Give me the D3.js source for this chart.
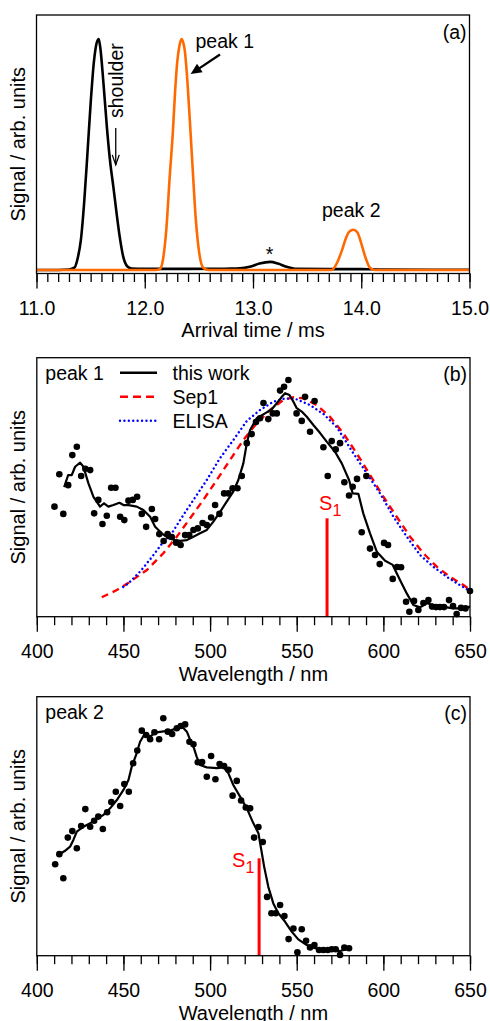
<!DOCTYPE html>
<html><head><meta charset="utf-8">
<script src="https://cdn.jsdelivr.net/npm/d3@7"></script>
<style>
body{margin:0;background:#fff}
svg text{font-family:"Liberation Sans",Arial,Helvetica,sans-serif;fill:#000}
</style>
</head><body>
<svg id="chart" width="490" height="1021"></svg>
<script>
// ---------------- DATA ----------------
const arrivalMajorTicks = [11, 12, 13, 14, 15];
const arrivalTickLabels = ["11.0", "12.0", "13.0", "14.0", "15.0"];
const wavelengthMajorTicks = [400, 450, 500, 550, 600, 650];
const wavelengthTickLabels = ["400", "450", "500", "550", "600", "650"];

// panel (a): arrival time distributions [time ms, signal]
const blackTrace = [[11.0,0.0],[11.2,0.0],[11.30,0.002],[11.35,0.01],[11.38,0.05],[11.41,0.13],[11.44,0.29],[11.47,0.50],[11.50,0.72],[11.53,0.90],[11.56,0.99],[11.575,1.0],[11.59,0.96],[11.62,0.80],[11.65,0.62],[11.68,0.47],[11.71,0.36],[11.74,0.245],[11.77,0.14],[11.80,0.06],[11.84,0.015],[11.88,0.006],[12.0,0.005],[12.4,0.005],[12.8,0.006],[12.88,0.007],[12.97,0.014],[13.06,0.028],[13.16,0.035],[13.23,0.028],[13.31,0.014],[13.40,0.005],[13.7,0.004],[14.0,0.004],[14.2,0.002],[15.0,0.001]];
const orangeTrace = [[11.0,0.0],[11.5,0.0],[12.0,0.0],[12.10,0.0],[12.14,0.004],[12.17,0.05],[12.20,0.18],[12.23,0.40],[12.26,0.60],[12.28,0.77],[12.30,0.90],[12.32,0.97],[12.34,1.0],[12.355,0.985],[12.37,0.95],[12.395,0.81],[12.42,0.62],[12.445,0.42],[12.47,0.23],[12.50,0.085],[12.54,0.01],[12.59,0.0],[13.0,0.0],[13.5,0.0],[13.727,0.0],[13.77,0.025],[13.82,0.083],[13.86,0.14],[13.89,0.166],[13.927,0.174],[13.965,0.162],[14.0,0.115],[14.04,0.053],[14.08,0.01],[14.13,0.0],[14.5,0.0],[15.0,0.0]];

// panel (b): peak 1 action spectrum [wavelength nm, signal]
const peak1Points = [[410.2,0.425],[413.0,0.550],[415.3,0.397],[418.1,0.508],[420.5,0.624],[423.1,0.656],[425.6,0.543],[428.0,0.571],[430.8,0.566],[433.1,0.399],[435.5,0.451],[437.9,0.358],[440.4,0.390],[442.9,0.498],[445.4,0.498],[448.1,0.386],[450.5,0.373],[452.9,0.448],[455.4,0.451],[457.9,0.463],[460.6,0.397],[463.1,0.347],[466.4,0.416],[468.3,0.377],[470.7,0.319],[473.2,0.292],[475.5,0.319],[477.9,0.308],[480.4,0.286],[483.0,0.277],[485.6,0.315],[488.0,0.315],[490.4,0.335],[492.9,0.341],[495.7,0.362],[498.1,0.354],[500.6,0.383],[502.9,0.431],[505.4,0.397],[508.1,0.476],[510.6,0.476],[513.0,0.496],[515.8,0.496],[518.3,0.543],[521.2,0.670],[524.0,0.705],[526.5,0.752],[528.8,0.766],[530.8,0.825],[533.6,0.763],[536.2,0.785],[538.5,0.785],[540.4,0.873],[542.7,0.888],[545.2,0.914],[549.9,0.785],[552.9,0.756],[554.8,0.849],[557.7,0.714],[560.3,0.833],[565.4,0.654],[567.9,0.543],[570.2,0.678],[572.5,0.646],[575.0,0.670],[577.5,0.519],[580.2,0.468],[582.3,0.502],[584.8,0.532],[587.5,0.326],[590.2,0.543],[592.3,0.263],[595.2,0.238],[597.9,0.203],[600.4,0.285],[602.7,0.277],[605.4,0.146],[607.9,0.192],[610.2,0.191],[613.1,0.058],[615.0,0.019],[617.7,0.061],[620.2,0.026],[623.1,0.053],[626.0,0.064],[628.1,0.039],[630.4,0.037],[632.7,0.037],[635.0,0.037],[637.9,0.064],[640.2,0.041],[642.3,0.010],[644.8,0.034],[647.4,0.032],[650.0,0.099]];
const peak1Smooth = [[415.8,0.500],[418.1,0.547],[420.2,0.547],[422.1,0.579],[425.0,0.595],[426.9,0.579],[429.8,0.515],[432.7,0.463],[436.5,0.425],[438.8,0.438],[441.3,0.425],[444.2,0.431],[447.7,0.440],[450.0,0.431],[452.9,0.431],[457.7,0.425],[461.5,0.412],[465.4,0.386],[468.3,0.347],[472.1,0.322],[475.9,0.303],[479.8,0.296],[482.7,0.293],[486.6,0.296],[490.4,0.309],[494.2,0.322],[498.1,0.335],[501.9,0.367],[505.8,0.405],[509.6,0.444],[513.4,0.483],[516.3,0.528],[519.2,0.592],[521.2,0.670],[523.1,0.721],[526.9,0.766],[531.7,0.785],[535.6,0.801],[538.5,0.824],[541.4,0.849],[543.3,0.863],[545.8,0.856],[548.1,0.830],[550.0,0.805],[552.9,0.792],[555.8,0.772],[559.6,0.740],[563.5,0.709],[567.3,0.676],[572.1,0.637],[576.0,0.592],[580.2,0.528],[582.3,0.476],[585.6,0.474],[588.4,0.399],[592.3,0.322],[596.2,0.251],[601.0,0.216],[605.4,0.200],[609.6,0.142],[613.5,0.090],[617.3,0.045],[621.2,0.036],[625.0,0.052],[628.8,0.045],[632.7,0.039],[636.6,0.036],[640.4,0.032],[644.2,0.032],[648.1,0.036],[650.0,0.039]];
const sep1Curve = [[437.5,0.075],[446.2,0.103],[453.8,0.135],[463.5,0.180],[473.0,0.245],[480.8,0.309],[488.5,0.380],[496.1,0.451],[503.9,0.528],[511.5,0.605],[519.2,0.682],[526.9,0.747],[534.6,0.798],[542.3,0.837],[548.1,0.847],[553.8,0.843],[561.6,0.817],[569.2,0.772],[576.9,0.708],[584.6,0.631],[592.3,0.547],[600.0,0.463],[607.7,0.386],[615.4,0.309],[623.1,0.245],[630.8,0.193],[638.5,0.154],[646.2,0.122],[649.6,0.106]];
const elisaCurve = [[449.8,0.115],[452.9,0.129],[459.6,0.174],[466.4,0.230],[472.1,0.281],[477.9,0.322],[484.6,0.393],[490.4,0.451],[498.1,0.528],[505.8,0.613],[513.4,0.682],[521.2,0.756],[528.8,0.798],[536.5,0.830],[543.3,0.843],[550.0,0.839],[557.7,0.817],[565.4,0.783],[573.1,0.732],[582.7,0.631],[590.4,0.554],[598.1,0.476],[605.8,0.386],[613.5,0.309],[621.2,0.238],[628.8,0.193],[636.6,0.154],[644.2,0.122],[649.0,0.103]];
const s1Peak1 = [567.5, 0.38];

// panel (c): peak 2 action spectrum
const peak2Points = [[410.6,0.353],[413.0,0.392],[415.3,0.299],[417.9,0.456],[420.5,0.481],[423.1,0.415],[425.6,0.501],[428.0,0.566],[430.8,0.498],[433.1,0.521],[435.5,0.537],[438.1,0.489],[440.6,0.554],[443.0,0.593],[445.6,0.633],[448.1,0.578],[450.5,0.663],[453.1,0.633],[455.6,0.743],[458.0,0.792],[460.6,0.869],[463.1,0.852],[465.4,0.836],[467.9,0.863],[470.6,0.836],[473.0,0.917],[475.6,0.865],[478.1,0.856],[480.8,0.878],[483.1,0.887],[485.6,0.893],[488.1,0.826],[490.4,0.816],[492.9,0.747],[495.4,0.748],[498.1,0.691],[500.6,0.771],[503.1,0.681],[505.5,0.740],[508.1,0.732],[510.6,0.718],[513.0,0.618],[515.4,0.675],[517.9,0.599],[520.6,0.572],[523.1,0.569],[525.4,0.456],[527.9,0.497],[530.4,0.439],[532.9,0.227],[535.4,0.164],[537.9,0.164],[540.4,0.196],[542.9,0.153],[545.3,0.064],[548.1,0.105],[550.4,0.013],[552.9,0.102],[555.4,0.058],[557.7,0.032],[560.2,0.041],[562.9,0.022],[565.4,0.022],[567.9,0.022],[570.2,0.025],[572.5,0.025],[575.0,0.003],[577.5,0.031],[580.2,0.029]];
const peak2Smooth = [[412.5,0.389],[416.3,0.405],[419.2,0.421],[421.1,0.447],[423.1,0.479],[426.9,0.498],[430.8,0.511],[434.6,0.530],[438.4,0.543],[442.3,0.569],[446.2,0.601],[450.0,0.640],[452.9,0.678],[454.8,0.730],[457.3,0.775],[459.6,0.826],[462.5,0.859],[465.4,0.846],[468.3,0.861],[472.1,0.865],[476.9,0.869],[480.8,0.878],[484.2,0.882],[486.6,0.865],[488.5,0.833],[490.4,0.807],[492.3,0.768],[494.2,0.736],[498.1,0.727],[503.9,0.724],[507.7,0.727],[510.6,0.704],[513.4,0.659],[517.3,0.614],[521.2,0.569],[525.0,0.511],[527.9,0.473],[529.4,0.415],[531.2,0.344],[533.6,0.266],[536.5,0.202],[539.4,0.164],[543.3,0.131],[547.1,0.093],[550.9,0.063],[555.8,0.041],[560.6,0.029],[565.4,0.022],[570.2,0.022],[575.0,0.018],[578.9,0.025],[581.8,0.027]];
const s1Peak2 = [528.3, 0.376];

// ---------------- DRAW ----------------
const svg = d3.select("#chart");
const FS = 19.5;
const ORANGE = "#ff6a00", RED = "#ff0000", BLUE = "#0000ff";

function frameAndAxis(g, x, top, bottom, left, right, major, labels, minorStep, title) {
  const lo = major[0], hi = major[major.length - 1];
  const minor = d3.range(lo, hi + minorStep / 2, minorStep);
  const axMinor = d3.axisBottom(x).tickValues(minor).tickSize(8.5).tickSizeOuter(0).tickFormat("");
  const axMajor = d3.axisBottom(x).tickValues(major).tickSize(15).tickSizeOuter(0)
    .tickPadding(12.6).tickFormat((d, i) => labels[i]);
  const gm = g.append("g").attr("transform", `translate(0,${bottom})`).call(axMinor);
  const gM = g.append("g").attr("transform", `translate(0,${bottom})`).call(axMajor);
  [gm, gM].forEach(a => {
    a.select(".domain").remove();
    a.selectAll("line").attr("stroke", "#000").attr("stroke-width", 1.3);
  });
  gM.selectAll("text").attr("font-size", FS).attr("font-family", "Liberation Sans, Arial, sans-serif").attr("fill", "#000");
  g.append("rect").attr("x", left).attr("y", top).attr("width", right - left).attr("height", bottom - top)
    .attr("fill", "none").attr("stroke", "#000").attr("stroke-width", 1.3);
  g.append("text").attr("x", (left + right) / 2).attr("y", bottom + 63.8).attr("text-anchor", "middle")
    .attr("font-size", 20).text(title);
  g.append("text").attr("transform", `translate(25,${(top + bottom) / 2}) rotate(-90)`)
    .attr("text-anchor", "middle").attr("font-size", 20).text("Signal / arb. units");
}

// ---- panel (a)
{
  const L = 36.5, R = 469.5, T = 15, B = 273.5;
  const x = d3.scaleLinear([11, 15], [L, R]);
  const y = d3.scaleLinear([0, 1], [270, 39]);
  const g = svg.append("g");
  g.append("clipPath").attr("id", "clipA").append("rect").attr("x", L).attr("y", T).attr("width", R - L).attr("height", B - T);
  const line = d3.line().x(d => x(d[0])).y(d => y(d[1])).curve(d3.curveMonotoneX);
  g.append("path").datum(blackTrace).attr("d", line).attr("fill", "none").attr("stroke", "#000")
    .attr("stroke-width", 2.6).attr("stroke-linejoin", "round").attr("clip-path", "url(#clipA)");
  g.append("path").datum(orangeTrace).attr("d", line).attr("fill", "none").attr("stroke", ORANGE)
    .attr("stroke-width", 2.6).attr("stroke-linejoin", "round").attr("clip-path", "url(#clipA)");
  frameAndAxis(g, x, T, B, L, R, arrivalMajorTicks, arrivalTickLabels, 0.1, "Arrival time / ms");

  g.append("text").attr("x", R - 3).attr("y", 38.5).attr("text-anchor", "end").attr("font-size", FS).text("(a)");
  g.append("text").attr("x", x(12.469)).attr("y", y(0.96)).attr("font-size", FS).text("peak 1");
  g.append("text").attr("x", x(13.637)).attr("y", y(0.231)).attr("font-size", FS).text("peak 2");
  g.append("text").attr("x", x(13.152)).attr("y", y(0.039)).attr("text-anchor", "middle").attr("font-size", FS).text("*");
  g.append("text").attr("transform", `translate(${x(11.799)},${y(0.658)}) rotate(-90)`).attr("font-size", FS).text("shoulder");

  // peak 1 arrow (filled head)
  const tail = [x(12.695), y(0.933)], tip = [x(12.424), y(0.848)];
  const dx = tip[0] - tail[0], dy = tip[1] - tail[1], len = Math.hypot(dx, dy);
  const ux = dx / len, uy = dy / len, hl = 11, hw = 5;
  const bx = tip[0] - ux * hl, by = tip[1] - uy * hl;
  g.append("line").attr("x1", tail[0]).attr("y1", tail[1]).attr("x2", bx + ux * 2).attr("y2", by + uy * 2)
    .attr("stroke", "#000").attr("stroke-width", 2.3);
  g.append("path").attr("d", `M${tip[0]},${tip[1]}L${bx - uy * hw},${by + ux * hw}L${bx + uy * hw},${by - ux * hw}Z`).attr("fill", "#000");

  // shoulder arrow (open head)
  const sx = x(11.732), sy1 = y(0.615), sy2 = y(0.455);
  g.append("line").attr("x1", sx).attr("y1", sy1).attr("x2", sx).attr("y2", sy2).attr("stroke", "#000").attr("stroke-width", 1.3);
  g.append("path").attr("d", `M${sx - 3.5},${sy2 - 10}L${sx},${sy2}L${sx + 3.5},${sy2 - 10}`)
    .attr("fill", "none").attr("stroke", "#000").attr("stroke-width", 1.3);
}

function spectrumPanel(id, T, B, points, smooth, s1, label, tag, extra) {
  const L = 36.8, R = 470;
  const x = d3.scaleLinear([400, 650], [L, R]);
  const y = d3.scaleLinear([0, 1], [B, T]);
  const g = svg.append("g");
  const line = d3.line().x(d => x(d[0])).y(d => y(d[1]));
  if (extra) extra(g, x, y, L, T);
  g.append("path").datum(smooth).attr("d", line).attr("fill", "none").attr("stroke", "#000")
    .attr("stroke-width", 2.2).attr("stroke-linejoin", "round");
  g.selectAll("circle.pt").data(points).join("circle").attr("class", "pt")
    .attr("cx", d => x(d[0])).attr("cy", d => y(d[1])).attr("r", 3.3).attr("fill", "#000");
  g.append("line").attr("x1", x(s1[0])).attr("x2", x(s1[0])).attr("y1", y(0)).attr("y2", y(s1[1]))
    .attr("stroke", RED).attr("stroke-width", 3);
  frameAndAxis(g, x, T, B, L, R, wavelengthMajorTicks, wavelengthTickLabels, 10, "Wavelength / nm");
  g.append("text").attr("x", R - 3).attr("y", T + 23.3).attr("text-anchor", "end").attr("font-size", FS).text(tag);
  g.append("text").attr("x", L + 8.5).attr("y", T + 22.3).attr("font-size", FS).text(label);
  return {g, x, y};
}

// ---- panel (b)
{
  const T = 357.7, B = 616.7;
  const p = spectrumPanel("b", T, B, peak1Points, peak1Smooth, s1Peak1, "peak 1", "(b)", (g, x, y) => {
    const line = d3.line().x(d => x(d[0])).y(d => y(d[1]));
    g.append("path").datum(sep1Curve).attr("d", line).attr("fill", "none").attr("stroke", RED)
      .attr("stroke-width", 2.4).attr("stroke-dasharray", "7,5");
    g.append("path").datum(elisaCurve).attr("d", line).attr("fill", "none").attr("stroke", BLUE)
      .attr("stroke-width", 2.4).attr("stroke-linecap", "round").attr("stroke-dasharray", "0.01,4.4");
  });
  const g = p.g;
  const leg = [
    {name: "this work", color: "#000", dash: null, cap: "butt", w: 2.4},
    {name: "Sep1", color: RED, dash: "8,5", cap: "butt", w: 2.4},
    {name: "ELISA", color: BLUE, dash: "0.01,4.4", cap: "round", w: 2.4}
  ];
  leg.forEach((d, i) => {
    const yy = 372.7 + i * 24;
    g.append("line").attr("x1", 120).attr("x2", 157).attr("y1", yy).attr("y2", yy)
      .attr("stroke", d.color).attr("stroke-width", d.w).attr("stroke-linecap", d.cap)
      .attr("stroke-dasharray", d.dash);
    g.append("text").attr("x", 172.5).attr("y", yy + 7).attr("font-size", FS).text(d.name);
  });
  const s = g.append("text").attr("x", p.x(s1Peak1[0]) - 8).attr("y", 509.5).attr("font-size", 20).attr("fill", RED).style("fill", RED);
  s.append("tspan").text("S");
  s.append("tspan").attr("font-size", 16).attr("dy", 6.5).text("1");
}

// ---- panel (c)
{
  const T = 696.7, B = 955.7;
  const p = spectrumPanel("c", T, B, peak2Points, peak2Smooth, s1Peak2, "peak 2", "(c)");
  const s = p.g.append("text").attr("x", p.x(s1Peak2[0]) - 27).attr("y", 866.7).attr("font-size", 20).style("fill", RED);
  s.append("tspan").text("S");
  s.append("tspan").attr("font-size", 16).attr("dy", 6.5).text("1");
}
</script>
</body></html>
